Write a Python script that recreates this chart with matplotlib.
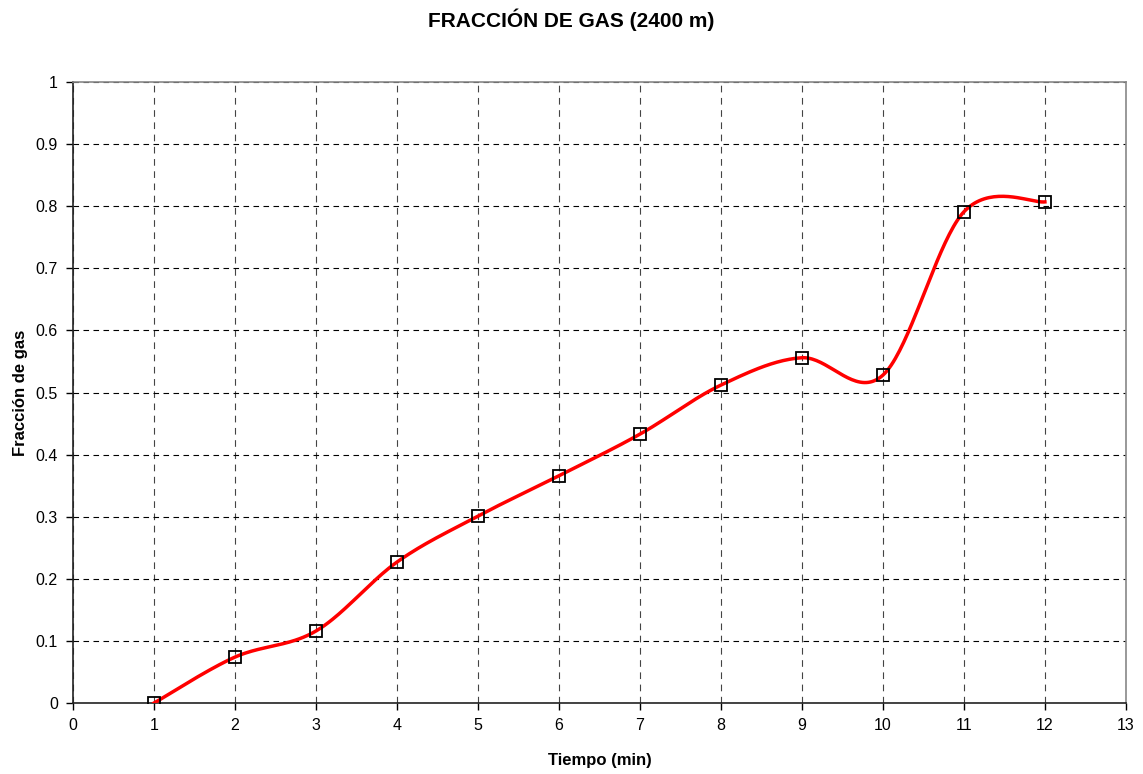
import numpy as np
import matplotlib
matplotlib.use("Agg")
import matplotlib.pyplot as plt

plt.rcParams['font.family'] = ['Liberation Sans', 'DejaVu Sans']

tiempo = [1, 2, 3, 4, 5, 6, 7, 8, 9, 10, 11, 12]
fraccion = [0.0, 0.074, 0.116, 0.227, 0.301, 0.366, 0.433, 0.512, 0.556, 0.528, 0.791, 0.807]
x_ticks = list(range(0, 14))
y_ticks = [0, 0.1, 0.2, 0.3, 0.4, 0.5, 0.6, 0.7, 0.8, 0.9, 1]
y_tick_labels = ['0', '0.1', '0.2', '0.3', '0.4', '0.5', '0.6', '0.7', '0.8', '0.9', '1']


def smooth(xs, ys, n=40):
    P = np.column_stack([xs, ys]).astype(float)
    m = len(P)
    out = []
    t = np.linspace(0, 1, n)[:, None]
    for i in range(m - 1):
        p0 = P[max(i - 1, 0)]
        p1 = P[i]
        p2 = P[i + 1]
        p3 = P[min(i + 2, m - 1)]
        c1 = p1 + (p2 - p0) / 6.0
        c2 = p2 - (p3 - p1) / 6.0
        seg = ((1 - t) ** 3) * p1 + 3 * ((1 - t) ** 2) * t * c1 + 3 * (1 - t) * t ** 2 * c2 + t ** 3 * p2
        out.append(seg if i == 0 else seg[1:])
    arr = np.vstack(out)
    return arr[:, 0], arr[:, 1]


fig = plt.figure(figsize=(11.43, 7.74), dpi=100)
ax = fig.add_axes([0.0639, 0.0917, 0.9211, 0.8023])

sx, sy = smooth(tiempo, fraccion)
ax.plot(sx, sy, color='#ff0000', lw=2.5, zorder=3)
ax.plot(tiempo, fraccion, ls='none', marker='s', ms=8, mfc='none', mec='black', mew=1.3, zorder=4)

ax.set_xlim(0, 13)
ax.set_ylim(0, 1)
ax.set_xticks(x_ticks)
ax.set_xticklabels([str(v) for v in x_ticks])
ax.set_yticks(y_ticks)
ax.set_yticklabels(y_tick_labels)
ax.grid(True, axis='y', color='black', ls=(0, (5, 4)), lw=0.8)
ax.grid(True, axis='x', color='#444444', ls=(0, (6, 5)), lw=0.8)
ax.set_axisbelow(True)
for s in ['top', 'right']:
    ax.spines[s].set_color('#888888')
    ax.spines[s].set_linewidth(1.2)
for s in ['left', 'bottom']:
    ax.spines[s].set_linewidth(1.2)
    ax.spines[s].set_color('#222222')
ax.tick_params(direction='out', length=5, width=1, labelsize=11.5, pad=6)

ax.set_xlabel('Tiempo (min)', fontsize=12, fontweight='bold', labelpad=14)
ax.set_ylabel('Fracción de gas', fontsize=12, fontweight='bold', labelpad=5)
fig.text(0.5, 0.974, 'FRACCIÓN DE GAS (2400 m)', ha='center', va='center', fontsize=15, fontweight='bold')

fig.savefig('out.png', dpi=100)
